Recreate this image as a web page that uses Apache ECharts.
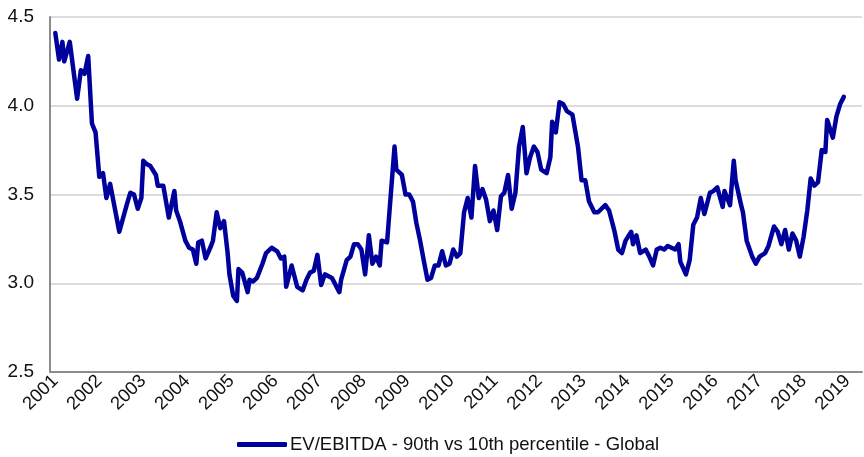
<!DOCTYPE html>
<html>
<head>
<meta charset="utf-8">
<script src="https://cdn.jsdelivr.net/npm/echarts@6/dist/echarts.min.js"></script>
<style>
  html, body { margin: 0; padding: 0; background: #fff; }
  #chart { width: 864px; height: 457px; }
</style>
</head>
<body>
<div id="chart"></div>
<script>
// EV/EBITDA spread (roughly monthly)
var dates = [
  '2001-01-01', '2001-02-01', '2001-03-01', '2001-03-16', '2001-05-01', '2001-07-01', '2001-08-01', '2001-09-01', '2001-10-01', '2001-11-01', '2001-12-01',
  '2002-01-01', '2002-02-01', '2002-03-01', '2002-04-01', '2002-06-16', '2002-07-01', '2002-08-16', '2002-09-16', '2002-10-16', '2002-11-16', '2002-12-16',
  '2003-01-01', '2003-02-01', '2003-03-01', '2003-04-16', '2003-05-01', '2003-06-16', '2003-08-01', '2003-09-16', '2003-10-01', '2003-11-01', '2003-12-16',
  '2004-01-16', '2004-02-16', '2004-03-16', '2004-04-01', '2004-05-01', '2004-06-01', '2004-07-16', '2004-08-01', '2004-09-01', '2004-10-01', '2004-11-01', '2004-12-01', '2004-12-16',
  '2005-01-16', '2005-02-16', '2005-03-01', '2005-04-01', '2005-05-16', '2005-06-01', '2005-07-01', '2005-08-01', '2005-09-16', '2005-10-16', '2005-12-01',
  '2006-01-16', '2006-02-16', '2006-03-16', '2006-04-01', '2006-05-16', '2006-07-01', '2006-08-16', '2006-09-16', '2006-10-16', '2006-11-16', '2006-12-16',
  '2007-01-16', '2007-02-16', '2007-04-16', '2007-06-16', '2007-07-01', '2007-08-16', '2007-09-16', '2007-10-16', '2007-11-16', '2007-12-16',
  '2008-01-16', '2008-02-16', '2008-03-16', '2008-04-16', '2008-05-16', '2008-06-01', '2008-07-16', '2008-09-16', '2008-10-01', '2008-11-16', '2008-12-16',
  '2009-01-16', '2009-02-16', '2009-03-16', '2009-04-16', '2009-05-16', '2009-06-16', '2009-07-16', '2009-08-16', '2009-09-16', '2009-10-16', '2009-11-16', '2009-12-16',
  '2010-01-16', '2010-02-16', '2010-03-16', '2010-04-16', '2010-05-16', '2010-06-16', '2010-07-16', '2010-08-16', '2010-09-16', '2010-10-16', '2010-11-16', '2010-12-16',
  '2011-01-16', '2011-02-16', '2011-03-16', '2011-04-16', '2011-05-16', '2011-06-16', '2011-07-16', '2011-08-16', '2011-09-16', '2011-10-16', '2011-11-16', '2011-12-16',
  '2012-01-16', '2012-03-01', '2012-04-01', '2012-04-16', '2012-05-16', '2012-06-16', '2012-07-16', '2012-08-16', '2012-10-01', '2012-11-16', '2012-12-16',
  '2013-01-16', '2013-02-16', '2013-04-01', '2013-05-01', '2013-07-01', '2013-08-01', '2013-09-01', '2013-09-16', '2013-10-16', '2013-11-16', '2013-12-16',
  '2014-02-01', '2014-02-16', '2014-03-16', '2014-04-16', '2014-06-01', '2014-07-01', '2014-08-01', '2014-09-01', '2014-10-01', '2014-11-01', '2014-12-01',
  '2015-01-01', '2015-02-01', '2015-03-01', '2015-03-16', '2015-05-01', '2015-06-01', '2015-07-01', '2015-08-01', '2015-09-01', '2015-10-01', '2015-10-16', '2015-11-16', '2015-12-16',
  '2016-01-16', '2016-03-01', '2016-03-16', '2016-05-01', '2016-06-01', '2016-06-16', '2016-08-01', '2016-08-16', '2016-09-16', '2016-11-01', '2016-12-01',
  '2017-01-01', '2017-02-16', '2017-03-16', '2017-05-01', '2017-06-01', '2017-07-01', '2017-08-01', '2017-09-01', '2017-10-01', '2017-11-01', '2017-12-01',
  '2018-01-01', '2018-02-01', '2018-03-01', '2018-04-01', '2018-05-01', '2018-06-01', '2018-07-01', '2018-07-16', '2018-09-01', '2018-10-01', '2018-11-01', '2018-12-01'
]
var values = [
  4.41, 4.26, 4.36, 4.25, 4.36, 4.04, 4.20, 4.18, 4.28, 3.90, 3.85,
  3.60, 3.62, 3.48, 3.56, 3.29, 3.29, 3.44, 3.51, 3.50, 3.42, 3.48,
  3.69, 3.67, 3.66, 3.61, 3.55, 3.55, 3.37, 3.52, 3.41, 3.35, 3.24,
  3.20, 3.19, 3.11, 3.23, 3.24, 3.14, 3.21, 3.24, 3.40, 3.31, 3.35, 3.17, 3.05,
  2.93, 2.90, 3.08, 3.06, 2.95, 3.02, 3.01, 3.03, 3.11, 3.17, 3.20,
  3.18, 3.14, 3.15, 2.98, 3.10, 2.98, 2.96, 3.02, 3.06, 3.07, 3.16,
  2.99, 3.05, 3.03, 2.95, 3.02, 3.13, 3.15, 3.22, 3.22, 3.19,
  3.05, 3.27, 3.11, 3.15, 3.10, 3.24, 3.23, 3.77, 3.64, 3.61, 3.50,
  3.50, 3.46, 3.34, 3.24, 3.13, 3.02, 3.03, 3.10, 3.10, 3.18, 3.10, 3.11,
  3.19, 3.15, 3.17, 3.40, 3.48, 3.37, 3.66, 3.48, 3.53, 3.47, 3.35, 3.41,
  3.30, 3.49, 3.51, 3.61, 3.42, 3.51, 3.77, 3.88, 3.62, 3.71, 3.77, 3.74,
  3.64, 3.62, 3.71, 3.91, 3.85, 4.02, 4.01, 3.97, 3.95, 3.77, 3.58,
  3.58, 3.46, 3.40, 3.40, 3.44, 3.41, 3.33, 3.29, 3.19, 3.17, 3.24,
  3.29, 3.22, 3.27, 3.17, 3.19, 3.15, 3.10, 3.19, 3.20, 3.19, 3.21,
  3.20, 3.19, 3.22, 3.12, 3.05, 3.13, 3.33, 3.37, 3.48, 3.39, 3.39, 3.51, 3.52,
  3.54, 3.43, 3.52, 3.44, 3.69, 3.58, 3.44, 3.40, 3.24, 3.15, 3.11,
  3.15, 3.17, 3.21, 3.32, 3.29, 3.22, 3.30, 3.19, 3.28, 3.24, 3.15,
  3.26, 3.41, 3.59, 3.55, 3.57, 3.75, 3.74, 3.92, 3.82, 3.94, 4.01, 4.05
]
var years = [2001, 2002, 2003, 2004, 2005, 2006, 2007, 2008, 2009, 2010,
  2011, 2012, 2013, 2014, 2015, 2016, 2017, 2018, 2019]
var yTicks = [2.5, 3.0, 3.5, 4.0, 4.5]
var seriesName = 'EV/EBITDA - 90th vs 10th percentile - Global'

var chart = echarts.init(document.getElementById('chart'))

function toTime(s) {
  return echarts.number.parseDate(s).getTime()
}
var points = dates.map(function (d, i) { return [toTime(d), values[i]] })
var yearStarts = years.map(function (y) { return toTime(y + '-01-01') })

chart.setOption({
  animation: false,
  textStyle: { fontFamily: 'Liberation Sans, Arial, sans-serif' },
  grid: {
    left: 50,
    right: 2,
    top: 17,
    bottom: 85
  },
  legend: {
    data: [seriesName],
    bottom: -2,
    left: 232,
    icon: 'roundRect',
    itemWidth: 50,
    itemHeight: 5,
    itemGap: 4,
    textStyle: { fontSize: 18.5, color: '#111', padding: [0, 0, 0, -2] }
  },
  xAxis: {
    type: 'value',
    min: toTime('2000-11-18'),
    max: toTime('2019-05-01'),
    splitLine: { show: false },
    axisLine: { lineStyle: { color: '#8c8c8c', width: 2 } },
    axisTick: { show: false },
    axisLabel: {
      customValues: yearStarts,
      rotate: 45,
      margin: 6,
      fontSize: 18.5,
      color: '#111',
      formatter: function (val) {
        return String(echarts.number.parseDate(val).getFullYear())
      }
    }
  },
  yAxis: {
    type: 'value',
    min: yTicks[0],
    max: yTicks[yTicks.length - 1],
    interval: 0.5,
    axisLine: { show: true, lineStyle: { color: '#8c8c8c', width: 2 } },
    axisTick: { show: false },
    splitLine: { lineStyle: { color: '#d0d0d0', width: 1.5 } },
    axisLabel: {
      fontSize: 19,
      color: '#111',
      margin: 16,
      formatter: function (v) { return v.toFixed(1) }
    }
  },
  series: [
    {
      name: seriesName,
      type: 'line',
      data: points,
      showSymbol: false,
      itemStyle: { color: '#00009c' },
      lineStyle: { color: '#00009c', width: 4.5, join: 'round', cap: 'round' }
    }
  ]
})
</script>
</body>
</html>
